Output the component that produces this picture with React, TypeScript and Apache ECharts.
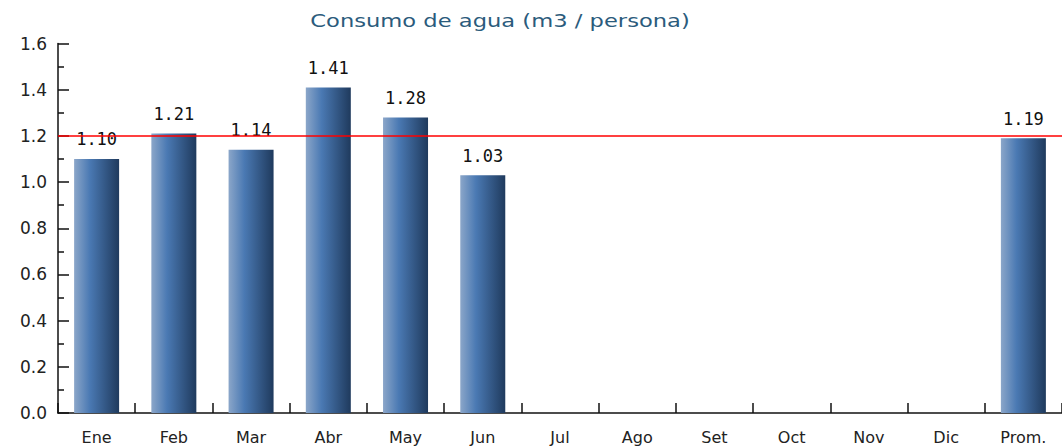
import React, { useEffect, useRef } from "react";
import * as echarts from "echarts";

const categories = ["Ene", "Feb", "Mar", "Abr", "May", "Jun", "Jul", "Ago", "Set", "Oct", "Nov", "Dic", "Prom."];
const values: (number | null)[] = [1.1, 1.21, 1.14, 1.41, 1.28, 1.03, null, null, null, null, null, null, 1.19];
const referenceValue = 1.2;
const titleText = "Consumo de agua (m3 / persona)";

export default function App() {
  const ref = useRef<HTMLDivElement>(null);
  useEffect(() => {
    if (!ref.current) return;
    const chart = echarts.init(ref.current, undefined, { renderer: "svg" });
    chart.setOption({
      animation: false,
      backgroundColor: "#ffffff",
      graphic: [
        {
          type: "text",
          x: 500,
          y: 21,
          scaleX: 1.33,
          style: {
            text: titleText,
            fill: "#2b5b7c",
            fontSize: 17,
            fontFamily: "DejaVu Sans",
            textAlign: "center",
            textVerticalAlign: "middle",
          },
        },
      ],
      grid: { left: 58, top: 43.5, width: 1011, height: 369.5 },
      xAxis: {
        type: "category",
        data: categories,
        axisLine: { lineStyle: { color: "#111", width: 1.5 } },
        axisTick: { show: true, inside: true, length: 10, interval: 0, lineStyle: { color: "#111", width: 1.5 } },
        axisLabel: { color: "#222", fontSize: 16, fontFamily: "DejaVu Sans", margin: 16, interval: 0 },
        splitLine: { show: false },
      },
      yAxis: {
        type: "value",
        min: 0,
        max: 1.6,
        interval: 0.2,
        axisLine: { show: true, lineStyle: { color: "#111", width: 1.5 } },
        axisTick: { show: true, inside: true, length: 11, lineStyle: { color: "#111", width: 1.5 } },
        minorTick: { show: true, splitNumber: 2, length: 6, lineStyle: { color: "#111", width: 1.5 } },
        axisLabel: {
          color: "#222",
          fontSize: 17,
          fontFamily: "DejaVu Sans",
          margin: 11,
          formatter: (v: number) => v.toFixed(1),
        },
        splitLine: { show: false },
      },
      series: [
        {
          type: "bar",
          data: values,
          barWidth: 45,
          itemStyle: {
            color: new echarts.graphic.LinearGradient(0, 0, 1, 0, [
              { offset: 0, color: "#8ba6c9" },
              { offset: 0.35, color: "#4a79b3" },
              { offset: 1, color: "#1f3a5d" },
            ]),
          },
          label: {
            show: true,
            position: "top",
            distance: 11,
            color: "#111",
            fontSize: 17,
            fontFamily: "DejaVu Sans Mono",
            formatter: (p: any) => (p.value == null ? "" : Number(p.value).toFixed(2)),
          },
          markLine: {
            silent: true,
            symbol: ["none", "none"],
            label: { show: false },
            lineStyle: { color: "#ff0000", width: 1.5, type: "solid" },
            data: [{ yAxis: referenceValue }],
          },
        },
      ],
    });
    return () => chart.dispose();
  }, []);
  return <div ref={ref} style={{ position: "fixed", left: 0, top: 0, width: 1062, height: 448 }} />;
}
